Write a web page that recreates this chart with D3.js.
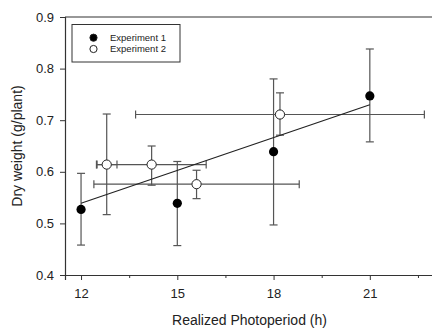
<!DOCTYPE html>
<html><head><meta charset="utf-8">
<script src="https://cdn.jsdelivr.net/npm/d3@7"></script>
<style>body{margin:0;background:#fff}svg{display:block;font-family:"Liberation Sans",Arial,sans-serif}</style>
</head><body><svg id="c" width="432" height="330"></svg>
<script>
// Experiment 1 (filled)
const exp1X = [12, 15, 18, 21];
const exp1Y = [0.527, 0.539, 0.639, 0.747];
const exp1YLo = [0.458, 0.457, 0.497, 0.658];
const exp1YHi = [0.597, 0.620, 0.780, 0.838];
// Experiment 2 (open)
const exp2X = [12.8, 14.2, 15.6, 18.2];
const exp2Y = [0.614, 0.614, 0.576, 0.711];
const exp2YLo = [0.517, 0.574, 0.548, 0.671];
const exp2YHi = [0.712, 0.650, 0.603, 0.753];
const exp2XLo = [12.48, 12.5, 12.4, 13.7];
const exp2XHi = [13.12, 15.9, 18.8, 22.7];
// Regression line
const fitX = [12, 21];
const fitY = [0.539, 0.730];
const xTicks = [12, 15, 18, 21];
const xMinor = [13.5, 16.5, 19.5, 22.5];
const yTicks = [0.4, 0.5, 0.6, 0.7, 0.8, 0.9];
const seriesNames = ["Experiment 1", "Experiment 2"];

const svg = d3.select("#c");
const x = d3.scaleLinear().domain([11.5, 23]).range([65, 434]);
const y = d3.scaleLinear().domain([0.4, 0.9]).range([275, 17]);
const axisCol = "#333", barCol = "#555";

// frame
svg.append("line").attr("x1",x(11.5)).attr("x2",432).attr("y1",y(0.9)).attr("y2",y(0.9)).attr("stroke",axisCol).attr("stroke-width",1.2);

const xa = svg.append("g").attr("transform",`translate(0,${y(0.4)})`)
  .call(d3.axisBottom(x).tickValues(xTicks).tickFormat(d3.format("d")).tickSize(5).tickPadding(9));
const xm = svg.append("g").attr("transform",`translate(0,${y(0.4)})`)
  .call(d3.axisBottom(x).tickValues(xMinor).tickFormat("").tickSize(3));
const ya = svg.append("g").attr("transform",`translate(${x(11.5)},0)`)
  .call(d3.axisLeft(y).tickValues(yTicks).tickFormat(d3.format(".1f")).tickSize(5).tickPadding(6));
[xa,xm,ya].forEach(g=>{
  g.selectAll("path").attr("stroke",axisCol).attr("stroke-width",1.2);
  g.selectAll("line").attr("stroke",axisCol);
  g.selectAll("text").attr("fill","#222").style("font-size","13px").style("font-family","'Liberation Sans',Arial,sans-serif");
});
xm.select("path").remove();

svg.append("text").attr("x",(x(11.5)+x(23))/2).attr("y",325).attr("text-anchor","middle")
  .attr("fill","#222").style("font-size","14px").text("Realized Photoperiod (h)");
svg.append("text").attr("transform",`translate(22,${(y(0.4)+y(0.9))/2}) rotate(-90)`).attr("text-anchor","middle")
  .attr("fill","#222").style("font-size","14px").text("Dry weight (g/plant)");

const cap = 4;
const eb = svg.append("g").attr("stroke",barCol).attr("stroke-width",1.2).attr("fill","none");
function vbar(xv, lo, hi){
  eb.append("line").attr("x1",x(xv)).attr("x2",x(xv)).attr("y1",y(lo)).attr("y2",y(hi));
  [lo,hi].forEach(v=>eb.append("line").attr("x1",x(xv)-cap).attr("x2",x(xv)+cap).attr("y1",y(v)).attr("y2",y(v)));
}
function hbar(yv, lo, hi){
  eb.append("line").attr("x1",x(lo)).attr("x2",x(hi)).attr("y1",y(yv)).attr("y2",y(yv));
  [lo,hi].forEach(v=>eb.append("line").attr("x1",x(v)).attr("x2",x(v)).attr("y1",y(yv)-cap).attr("y2",y(yv)+cap));
}
exp1X.forEach((d,i)=>vbar(d,exp1YLo[i],exp1YHi[i]));
exp2X.forEach((d,i)=>{vbar(d,exp2YLo[i],exp2YHi[i]); hbar(exp2Y[i],exp2XLo[i],exp2XHi[i]);});

svg.append("line").attr("x1",x(fitX[0])).attr("x2",x(fitX[1])).attr("y1",y(fitY[0])).attr("y2",y(fitY[1]))
  .attr("stroke","#222").attr("stroke-width",1.2);

svg.append("g").selectAll("circle").data(exp1X).join("circle")
  .attr("cx",d=>x(d)).attr("cy",(d,i)=>y(exp1Y[i])).attr("r",4.6).attr("fill","#000");
svg.append("g").selectAll("circle").data(exp2X).join("circle")
  .attr("cx",d=>x(d)).attr("cy",(d,i)=>y(exp2Y[i])).attr("r",4.6).attr("fill","#fff").attr("stroke","#222").attr("stroke-width",1);

// legend
const lg = svg.append("g");
lg.append("rect").attr("x",72).attr("y",24.5).attr("width",108).attr("height",37.5).attr("fill","#fff").attr("stroke",axisCol).attr("stroke-width",1);
seriesNames.forEach((n,i)=>{
  const cy = 37.7 + i*11.3;
  lg.append("circle").attr("cx",93.5).attr("cy",cy).attr("r",3.6)
    .attr("fill",i===0?"#000":"#fff").attr("stroke","#222").attr("stroke-width",1);
  lg.append("text").attr("x",110).attr("y",cy+3.3).attr("fill","#222").style("font-size","9.5px").text(n);
});
</script></body></html>
